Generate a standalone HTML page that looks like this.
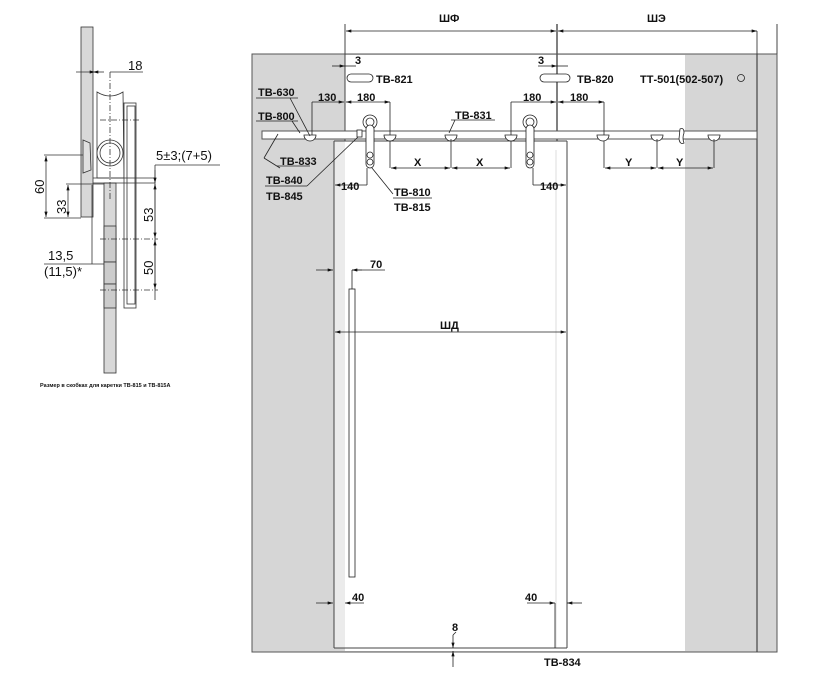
<!DOCTYPE html>
<html><head><meta charset="utf-8"><style>
html,body{margin:0;padding:0;background:#fff;}
svg{display:block;}
text{font-family:"Liberation Sans",Arial,sans-serif;font-weight:bold;fill:#111;}
text.n{font-weight:normal;}
</style></head><body>
<svg width="821" height="693" viewBox="0 0 821 693" xmlns="http://www.w3.org/2000/svg">
<defs>
<marker id="a" viewBox="0 0 10 6" refX="10" refY="3" markerWidth="8" markerHeight="4" orient="auto-start-reverse"><path d="M0,0 L10,3 L0,6z" fill="#111"/></marker>
</defs>
<!-- LEFT DETAIL -->
<g stroke="#333" stroke-width="0.8" fill="none">
<rect x="81" y="27" width="12" height="190" fill="#d8d8d8"/>
<rect x="104" y="183" width="12" height="190" fill="#d8d8d8"/>
<path d="M97,92 Q110,100 123,92 L124,178 L97,178 Z" fill="#fff"/>
<rect x="124" y="103" width="12" height="205" fill="#fff"/>
<rect x="127" y="106" width="8" height="198"/>
<circle cx="110" cy="153" r="13" fill="#fff"/>
<circle cx="110" cy="153" r="10"/>
<path d="M83,140 L90,143 L91,170 L83,173 Z" fill="#e0e0e0"/>
<rect x="104" y="226" width="12" height="36" fill="#ccc"/>
<rect x="104" y="262" width="12" height="22" fill="#ccc"/>
<rect x="104" y="284" width="12" height="24" fill="#ccc"/>
<line x1="93" y1="178" x2="155" y2="178"/>
<line x1="93" y1="183" x2="155" y2="183"/>
<line x1="110" y1="72" x2="110" y2="200" stroke-dasharray="6,2,1,2"/>
<line x1="100" y1="120" x2="140" y2="120" stroke-dasharray="6,2,1,2"/>
<line x1="100" y1="239" x2="158" y2="239" stroke-dasharray="6,2,1,2"/>
<line x1="100" y1="290" x2="158" y2="290" stroke-dasharray="6,2,1,2"/>
<line x1="76" y1="72" x2="95" y2="72" marker-end="url(#a)"/>
<line x1="110" y1="72" x2="143" y2="72"/>
<line x1="93" y1="72" x2="104" y2="72" marker-start="url(#a)"/>
<line x1="44" y1="155" x2="83" y2="155"/>
<line x1="44" y1="218" x2="81" y2="218"/>
<line x1="46" y1="156" x2="46" y2="217" marker-start="url(#a)" marker-end="url(#a)"/>
<line x1="66" y1="184" x2="104" y2="184"/>
<line x1="68" y1="185" x2="68" y2="217" marker-start="url(#a)" marker-end="url(#a)"/>
<line x1="155" y1="165" x2="220" y2="165"/>
<line x1="155" y1="165" x2="155" y2="300"/>
<line x1="155" y1="170" x2="155" y2="183" marker-end="url(#a)"/>
<line x1="155" y1="184" x2="155" y2="238" marker-start="url(#a)" marker-end="url(#a)"/>
<line x1="155" y1="240" x2="155" y2="289" marker-start="url(#a)" marker-end="url(#a)"/>
<line x1="92" y1="185" x2="92" y2="264"/>
<line x1="44" y1="264" x2="104" y2="264"/>
</g>
<text class="n" x="128" y="70" font-size="13">18</text>
<text class="n" x="156" y="160" font-size="13">5±3;(7+5)</text>
<text class="n" transform="translate(44,194) rotate(-90)" font-size="13">60</text>
<text class="n" transform="translate(66,214) rotate(-90)" font-size="13">33</text>
<text class="n" transform="translate(153,222) rotate(-90)" font-size="13">53</text>
<text class="n" transform="translate(153,275) rotate(-90)" font-size="13">50</text>
<text class="n" x="48" y="260" font-size="13">13,5</text>
<text class="n" x="44" y="276" font-size="13">(11,5)*</text>
<text x="40" y="387" font-size="5.5">Размер в скобках для каретки ТВ-815 и ТВ-815А</text>

<!-- MAIN -->
<g stroke="#555" stroke-width="1">
<rect x="252" y="54" width="525" height="598" fill="#d6d6d6"/>
<rect x="345" y="55" width="340" height="596" fill="#fff" stroke="none"/>
<rect x="334" y="141" width="11" height="507" fill="#ebebeb" stroke="none"/>
<line x1="334" y1="141" x2="334" y2="648" stroke="#444"/>
<line x1="334" y1="141" x2="567" y2="141" stroke="#444"/>
<line x1="567" y1="141" x2="567" y2="648" stroke="#444"/>
<line x1="556" y1="150" x2="556" y2="648" stroke="#ddd"/>
<line x1="334" y1="648" x2="567" y2="648" stroke="#444"/>
<line x1="757" y1="54" x2="757" y2="652" stroke="#444" stroke-width="1.2"/>
<line x1="557" y1="24" x2="557" y2="141" stroke="#555" stroke-width="1.5"/>
<line x1="345" y1="24" x2="345" y2="141" stroke="#444"/>
<line x1="777" y1="24" x2="777" y2="54" stroke="#444"/>
<rect x="262" y="131" width="495" height="8" fill="#fff"/>
</g>
<g stroke="#222" stroke-width="0.8" fill="none">
<line x1="346" y1="31" x2="556" y2="31" marker-start="url(#a)" marker-end="url(#a)"/>
<line x1="558" y1="31" x2="757" y2="31" marker-start="url(#a)" marker-end="url(#a)"/>
<line x1="757" y1="31" x2="757" y2="54"/>
<rect x="347" y="74" width="26" height="8" rx="4" fill="#fff"/>
<rect x="540" y="74" width="30" height="8" rx="4" fill="#fff"/>
<circle cx="741" cy="78" r="3.5"/>
<line x1="332" y1="66" x2="345" y2="66" marker-end="url(#a)"/>
<line x1="345" y1="66" x2="356" y2="66"/>
<line x1="538" y1="66" x2="557" y2="66" marker-end="url(#a)"/>
<line x1="557" y1="66" x2="568" y2="66"/>
<line x1="312" y1="102" x2="312" y2="136"/>
<line x1="312" y1="102" x2="344" y2="102" marker-end="url(#a)"/>
<line x1="346" y1="102" x2="390" y2="102" marker-start="url(#a)" marker-end="url(#a)"/>
<line x1="390" y1="102" x2="390" y2="168"/>
<line x1="511" y1="102" x2="556" y2="102" marker-end="url(#a)"/>
<line x1="511" y1="102" x2="511" y2="168"/>
<line x1="558" y1="102" x2="604" y2="102" marker-start="url(#a)" marker-end="url(#a)"/>
<line x1="604" y1="102" x2="604" y2="168"/>
<g fill="#fff">
<path d="M304,135 h12 a6,6 0 0 1 -12,0z"/>
<path d="M384,135 h12 a6,6 0 0 1 -12,0z"/>
<path d="M445,135 h12 a6,6 0 0 1 -12,0z"/>
<path d="M505,135 h12 a6,6 0 0 1 -12,0z"/>
<path d="M597,135 h12 a6,6 0 0 1 -12,0z"/>
<path d="M651,135 h12 a6,6 0 0 1 -12,0z"/>
<path d="M708,135 h12 a6,6 0 0 1 -12,0z"/>
<path d="M680,129 q4,-2 4,4 q-2,5 0,10 q-4,2 -5,-4z"/>
<circle cx="370" cy="122" r="7"/><circle cx="370" cy="122" r="4"/>
<rect x="366" y="125" width="8" height="43" rx="4"/>
<circle cx="370" cy="155" r="3"/><circle cx="370" cy="162" r="3"/>
<circle cx="530" cy="122" r="7"/><circle cx="530" cy="122" r="4"/>
<rect x="526" y="125" width="8" height="43" rx="4"/>
<circle cx="530" cy="155" r="3"/><circle cx="530" cy="162" r="3"/>
<rect x="357" y="130" width="5" height="7"/>
</g>
<line x1="451" y1="139" x2="451" y2="168"/>
<line x1="391" y1="168" x2="450" y2="168" marker-start="url(#a)" marker-end="url(#a)"/>
<line x1="452" y1="168" x2="510" y2="168" marker-start="url(#a)" marker-end="url(#a)"/>
<line x1="657" y1="139" x2="657" y2="168"/>
<line x1="714" y1="139" x2="714" y2="168"/>
<line x1="605" y1="168" x2="656" y2="168" marker-start="url(#a)" marker-end="url(#a)"/>
<line x1="658" y1="168" x2="713" y2="168" marker-start="url(#a)" marker-end="url(#a)"/>
<line x1="367" y1="168" x2="367" y2="185"/>
<line x1="335" y1="185" x2="367" y2="185" marker-start="url(#a)"/>
<line x1="533" y1="168" x2="533" y2="185"/>
<line x1="533" y1="185" x2="566" y2="185" marker-end="url(#a)"/>
<line x1="256" y1="98" x2="298" y2="98"/><line x1="290" y1="98" x2="310" y2="136"/>
<line x1="256" y1="121" x2="298" y2="121"/><line x1="292" y1="121" x2="300" y2="133"/>
<line x1="277" y1="166" x2="310" y2="166"/><line x1="264" y1="158" x2="278" y2="134"/><line x1="264" y1="158" x2="280" y2="168"/>
<line x1="265" y1="186" x2="307" y2="186"/><line x1="307" y1="186" x2="358" y2="137"/>
<line x1="451" y1="120" x2="495" y2="120"/><line x1="455" y1="120" x2="449" y2="133"/>
<line x1="372" y1="168" x2="393" y2="194"/><line x1="393" y1="198" x2="432" y2="198"/>
<rect x="349" y="289" width="6" height="288" fill="#fff"/>
<line x1="352" y1="270" x2="352" y2="289"/>
<line x1="316" y1="270" x2="333" y2="270" marker-end="url(#a)"/>
<line x1="352" y1="270" x2="385" y2="270"/>
<line x1="352" y1="270" x2="362" y2="270" marker-start="url(#a)"/>
<line x1="335" y1="332" x2="566" y2="332" marker-start="url(#a)" marker-end="url(#a)"/>
<line x1="316" y1="603" x2="333" y2="603" marker-end="url(#a)"/>
<line x1="345" y1="603" x2="364" y2="603" marker-start="url(#a)"/>
<line x1="527" y1="603" x2="555" y2="603" marker-end="url(#a)"/>
<line x1="567" y1="603" x2="582" y2="603" marker-start="url(#a)"/>
<line x1="555" y1="603" x2="555" y2="648"/>
<line x1="453" y1="635" x2="453" y2="648" marker-end="url(#a)"/>
<line x1="453" y1="667" x2="453" y2="651" marker-end="url(#a)"/>
<line x1="453" y1="635" x2="456" y2="632"/>
</g>
<g font-size="11">
<text x="439" y="22">ШФ</text>
<text x="647" y="22">ШЭ</text>
<text x="355" y="64">3</text>
<text x="538" y="64">3</text>
<text x="376" y="83">ТВ-821</text>
<text x="577" y="83">ТВ-820</text>
<text x="640" y="83">ТТ-501(502-507)</text>
<text x="258" y="96">ТВ-630</text>
<text x="258" y="120">ТВ-800</text>
<text x="318" y="101">130</text>
<text x="357" y="101">180</text>
<text x="523" y="101">180</text>
<text x="570" y="101">180</text>
<text x="455" y="119">ТВ-831</text>
<text x="280" y="165">ТВ-833</text>
<text x="266" y="184">ТВ-840</text>
<text x="266" y="200">ТВ-845</text>
<text x="414" y="166">X</text>
<text x="476" y="166">X</text>
<text x="625" y="166">Y</text>
<text x="676" y="166">Y</text>
<text x="341" y="190">140</text>
<text x="540" y="190">140</text>
<text x="394" y="196">ТВ-810</text>
<text x="394" y="211">ТВ-815</text>
<text x="370" y="268">70</text>
<text x="440" y="329">ШД</text>
<text x="352" y="601">40</text>
<text x="525" y="601">40</text>
<text x="452" y="631">8</text>
<text x="544" y="666">ТВ-834</text>
</g>
</svg>
</body></html>
